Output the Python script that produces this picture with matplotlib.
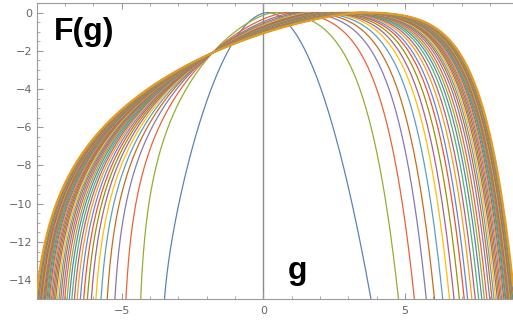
import numpy as np
import matplotlib.pyplot as plt

# values: where each curve meets F = -15 on the right / left
right_cross = [3.80, 4.77, 5.33, 5.75, 6.04, 6.33, 6.57, 6.73, 6.92, 7.09,
               7.21, 7.36, 7.48, 7.60, 7.71, 7.80, 7.89, 7.99, 8.07, 8.14,
               8.20, 8.26, 8.31, 8.36, 8.41, 8.45, 8.49, 8.53, 8.56, 8.59,
               8.62, 8.65, 8.67, 8.69, 8.71, 8.73, 8.75, 8.77, 8.78, 8.79,
               8.80, 8.81, 8.82, 8.83, 8.84, 8.845, 8.85, 8.855, 8.86, 8.865]
left_cross = [-3.49, -4.33, -4.85, -5.24, -5.51, -5.73, -5.91, -6.07, -6.21, -6.34,
              -6.46, -6.57, -6.67, -6.76, -6.85, -6.93, -7.01, -7.08, -7.15, -7.21,
              -7.27, -7.33, -7.38, -7.43, -7.48, -7.52, -7.56, -7.60, -7.64, -7.67,
              -7.70, -7.73, -7.76, -7.79, -7.81, -7.83, -7.85, -7.87, -7.89, -7.91,
              -7.93, -7.94, -7.95, -7.96, -7.97, -7.98, -7.99, -8.00, -8.01, -8.02]
# estimated position of each maximum (F = 0)
peak_at = [0.15, 0.36, 0.80, 1.13, 1.36, 1.55, 1.70, 1.84, 1.96, 2.07,
           2.17, 2.26, 2.35, 2.43, 2.50, 2.57, 2.64, 2.70, 2.76, 2.81,
           2.86, 2.91, 2.95, 3.00, 3.04, 3.07, 3.11, 3.14, 3.17, 3.20,
           3.23, 3.25, 3.28, 3.30, 3.32, 3.34, 3.35, 3.37, 3.39, 3.40,
           3.42, 3.43, 3.44, 3.45, 3.46, 3.465, 3.47, 3.48, 3.49, 3.50]

palette = ["#5E81B5", "#8FB032", "#EB6235", "#8778B3", "#C56E1A", "#5D9EC7",
           "#FFBF00", "#A5609D", "#929600", "#E95536", "#6685D9", "#F89F13",
           "#BC5B80", "#47B66D"]
last_color = "#E19C24"

R = np.array(right_cross)
L = np.array(left_cross)
P = np.array(peak_at)
w = (R - R[0]) / (R[-1] - R[0])


def right_shape(x, k):
    if k < 1e-3:
        return x ** 2
    return (np.exp(k * x) - 1 - k * x) / (np.exp(k) - 1 - k)


def left_shape(x):
    gx = 0.978 * x
    h = np.where(gx < 1, -np.log(np.clip(1 - gx, 1e-12, None)) - gx, 1e3)
    return (4.66 * np.abs(x) ** 1.4 + 3.64 * h) / 15


g = np.linspace(-8, 8.81, 3000)

fig = plt.figure(figsize=(5.13, 3.29), dpi=100)
ax = fig.add_axes([0.0715, 0.0903, 0.9285, 0.9006])

for i in range(len(R)):
    p, r, l = P[i], R[i], L[i]
    k = 5 * w[i] ** 0.2
    v = 0.3 if i == 0 else 1.0
    xr = (g - p) / (r - p)
    xl = (p - g) / (p - l)
    f = np.where(g >= p, -15 * right_shape(np.clip(xr, 0, 5), k),
                 -15 * ((1 - v) * xl ** 2 + v * left_shape(xl)))
    f = np.where(np.isfinite(f), f, -100)
    if i == len(R) - 1:
        ax.plot(g, f, color=last_color, lw=1.6, zorder=3)
    else:
        ax.plot(g, f, color=palette[i % len(palette)], lw=0.9, zorder=2)

ax.axvline(0, color="#8a8a8a", lw=1.0, zorder=1)

ax.set_xlim(-8, 8.81)
ax.set_ylim(-15, 0.5)
ax.set_xticks([-5, 0, 5])
ax.set_xticks(np.arange(-8, 9), minor=True)
ax.set_yticks(np.arange(-14, 1, 2))
ax.set_yticks(np.arange(-15, 0.6, 0.5), minor=True)
ax.set_xticklabels(["\u22125", "0", "5"])
ax.set_yticklabels(["\u221214", "\u221212", "\u221210", "\u22128", "\u22126", "\u22124", "\u22122", "0"])
for s in ["left", "bottom", "top"]:
    ax.spines[s].set_color("#9a9a9a")
ax.spines["right"].set_visible(False)
ax.tick_params(which="both", direction="in", colors="#9a9a9a", labelcolor="#666666",
               labelsize=8, top=True, right=False)
ax.tick_params(which="major", length=4.5, width=0.8)
ax.tick_params(which="minor", length=2.5, width=0.6)
ax.tick_params(axis="x", pad=5)
ax.tick_params(axis="y", pad=3)

fig.text(0.105, 0.878, "F(g)", fontsize=23, fontweight="bold",
         family="Liberation Sans", ha="left", va="baseline")
fig.text(0.560, 0.152, "g", fontsize=23, fontweight="bold",
         family="Liberation Sans", ha="left", va="baseline")

fig.savefig("out.png", dpi=100)
